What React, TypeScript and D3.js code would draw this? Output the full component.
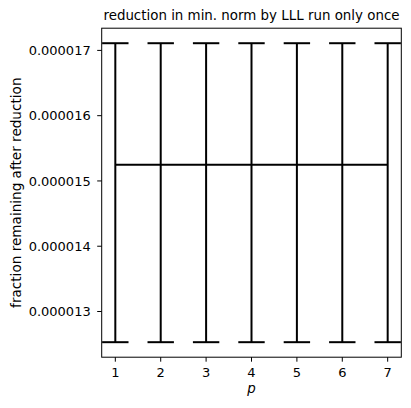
import React from "react";
import * as d3 from "d3";

const pValues = [1, 2, 3, 4, 5, 6, 7];
const means = [0.00001525, 0.00001525, 0.00001525, 0.00001525, 0.00001525, 0.00001525, 0.00001525];
const upper = [0.00001711, 0.00001711, 0.00001711, 0.00001711, 0.00001711, 0.00001711, 0.00001711];
const lower = [0.00001253, 0.00001253, 0.00001253, 0.00001253, 0.00001253, 0.00001253, 0.00001253];
const yTicks = [0.000013, 0.000014, 0.000015, 0.000016, 0.000017];
const xTicks = [1, 2, 3, 4, 5, 6, 7];
const title = "reduction in min. norm by LLL run only once";
const yLabel = "fraction remaining after reduction";
const xLabel = "p";

export default function App() {
  const W = 411, H = 408;
  const left = 101.7, right = 401.3, top = 28.2, bottom = 357.2;
  const x = d3.scaleLinear().domain([0.7, 7.3]).range([left, right]);
  const y = d3.scaleLinear().domain([0.00001230, 0.00001734]).range([bottom, top]);
  const font = "DejaVu Sans, sans-serif";
  const cap = 13.2;
  const line = d3.line<number>().x((_, i) => x(pValues[i])).y((d) => y(d));
  return (
    <svg width={W} height={H} style={{ position: "absolute", left: 0, top: 0 }} fontFamily={font}>
      <rect x={0} y={0} width={W} height={H} fill="#fff" />
      <path d={line(means) || ""} fill="none" stroke="#000" strokeWidth={2} />
      {pValues.map((p, i) => (
        <g key={p} stroke="#000" strokeWidth={2}>
          <line x1={x(p)} x2={x(p)} y1={y(lower[i])} y2={y(upper[i])} />
          <line x1={x(p) - cap} x2={x(p) + cap} y1={y(upper[i])} y2={y(upper[i])} />
          <line x1={x(p) - cap} x2={x(p) + cap} y1={y(lower[i])} y2={y(lower[i])} />
        </g>
      ))}
      <rect x={left} y={top} width={right - left} height={bottom - top} fill="none" stroke="#000" strokeWidth={1} />
      {xTicks.map((t) => (
        <g key={t}>
          <line x1={x(t)} x2={x(t)} y1={bottom} y2={bottom + 4.5} stroke="#000" strokeWidth={1} />
          <text x={x(t)} y={bottom + 20} textAnchor="middle" fontSize={13} fill="#000">{t}</text>
        </g>
      ))}
      {yTicks.map((t) => (
        <g key={t}>
          <line x1={left - 4.5} x2={left} y1={y(t)} y2={y(t)} stroke="#000" strokeWidth={1} />
          <text x={left - 11} y={y(t)} dy="0.35em" textAnchor="end" fontSize={13} fill="#000">{d3.format(".6f")(t)}</text>
        </g>
      ))}
      <text x={(left + right) / 2} y={top - 8} textAnchor="middle" fontSize={13.4} fill="#000">{title}</text>
      <text x={(left + right) / 2} y={bottom + 36} textAnchor="middle" fontSize={13.4} fontStyle="italic" fill="#000">{xLabel}</text>
      <text transform={`translate(21,${(top + bottom) / 2}) rotate(-90)`} textAnchor="middle" fontSize={13.6} fill="#000">{yLabel}</text>
    </svg>
  );
}
